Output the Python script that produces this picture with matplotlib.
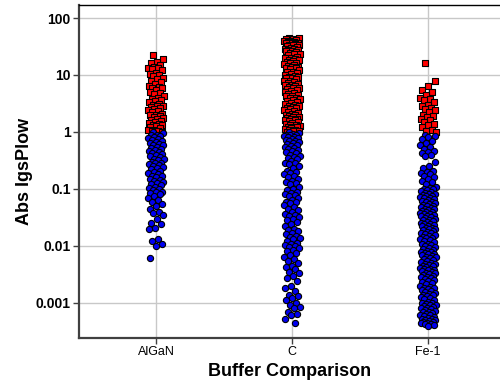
import numpy as np
import matplotlib.pyplot as plt

plt.rcParams['font.family'] = ['Liberation Sans', 'DejaVu Sans']

# categories on the x axis
categories = ['AlGaN', 'C', 'Fe-1']

# values (Abs IgsPlow), split at 1 like the reference
algan_high = [22, 19, 17, 16, 15, 14, 13.5, 13, 12.5, 12, 11, 10.5, 10, 9.5, 9, 8.5, 8, 7.5, 7,
              6.5, 6.2, 6, 5.8, 5.5, 5, 4.8, 4.6, 4.3, 4, 3.8, 3.6, 3.5, 3.3, 3.1, 3, 2.9, 2.8,
              2.7, 2.6, 2.5, 2.4, 2.3, 2.2, 2.1, 2, 1.95, 1.9, 1.8, 1.75, 1.7, 1.6, 1.55, 1.5,
              1.45, 1.4, 1.35, 1.3, 1.25, 1.2, 1.15, 1.1, 1.08, 1.05, 1.02, 1.0]
algan_low = [0.98, 0.95, 0.9, 0.87, 0.85, 0.8, 0.78, 0.75, 0.72, 0.7, 0.66, 0.63, 0.62, 0.6, 0.58,
             0.55, 0.52, 0.5, 0.48, 0.46, 0.44, 0.42, 0.41, 0.4, 0.38, 0.36, 0.34, 0.33, 0.32, 0.3,
             0.29, 0.28, 0.27, 0.26, 0.25, 0.24, 0.23, 0.22, 0.21, 0.2, 0.19, 0.18, 0.17, 0.17,
             0.16, 0.15, 0.145, 0.14, 0.13, 0.125, 0.12, 0.115, 0.11, 0.105, 0.1, 0.095, 0.09,
             0.088, 0.085, 0.08, 0.075, 0.07, 0.065, 0.06, 0.055, 0.05, 0.045, 0.04, 0.038, 0.035,
             0.03, 0.025, 0.024, 0.021, 0.02, 0.013, 0.012, 0.011, 0.0098, 0.0062]

c_high = [45, 44, 43, 42, 41, 40, 39, 38.5, 38, 37, 36.5, 36, 35, 34, 33.5, 33, 32, 31, 30, 29,
          28.5, 28, 27, 26.5, 26, 25, 24, 23.5, 23, 22, 21, 20, 19.5, 19, 18.5, 18, 17.5, 17,
          16.5, 16, 15.5, 15, 14.5, 14, 13.8, 13.5, 13, 12.5, 12, 11.5, 11.2, 11, 10.5, 10, 9.7,
          9.4, 9.2, 9, 8.7, 8.4, 8, 7.7, 7.4, 7.2, 7, 6.8, 6.6, 6.5, 6.2, 6, 5.8, 5.6, 5.4, 5.2,
          5, 4.8, 4.6, 4.4, 4.3, 4.2, 4, 3.9, 3.8, 3.6, 3.5, 3.4, 3.2, 3.1, 3, 2.9, 2.8, 2.7,
          2.65, 2.6, 2.5, 2.4, 2.3, 2.2, 2.15, 2.1, 2, 1.95, 1.9, 1.85, 1.8, 1.75, 1.72, 1.7,
          1.65, 1.6, 1.55, 1.5, 1.45, 1.4, 1.35, 1.3, 1.27, 1.24, 1.22, 1.2, 1.17, 1.14, 1.1,
          1.07, 1.04, 1.02, 1.0]
c_low = [0.98, 0.96, 0.93, 0.9, 0.88, 0.88, 0.85, 0.82, 0.8, 0.77, 0.75, 0.72, 0.7, 0.68, 0.67,
         0.65, 0.62, 0.6, 0.57, 0.55, 0.52, 0.5, 0.48, 0.47, 0.45, 0.42, 0.4, 0.38, 0.37, 0.35,
         0.33, 0.31, 0.29, 0.28, 0.27, 0.25, 0.23, 0.21, 0.2, 0.19, 0.18, 0.17, 0.16, 0.15, 0.14,
         0.13, 0.125, 0.12, 0.11, 0.1, 0.095, 0.09, 0.085, 0.08, 0.078, 0.075, 0.07, 0.065, 0.06,
         0.058, 0.056, 0.052, 0.048, 0.045, 0.042, 0.04, 0.037, 0.035, 0.034, 0.032, 0.03, 0.028,
         0.026, 0.024, 0.022, 0.02, 0.019, 0.018, 0.017, 0.016, 0.015, 0.0145, 0.014, 0.013,
         0.012, 0.0112, 0.011, 0.0105, 0.01, 0.0095, 0.009, 0.0085, 0.008, 0.0075, 0.007,
         0.0065, 0.006, 0.0055, 0.005, 0.0045, 0.0042, 0.004, 0.0035, 0.0033, 0.003, 0.0027,
         0.0024, 0.002, 0.0018, 0.0016, 0.0014, 0.0013, 0.0012, 0.0011, 0.001, 0.0009,
         0.00085, 0.0008, 0.0007, 0.00065, 0.0006, 0.00052, 0.00045]

fe_high = [16, 8, 6.5, 5.5, 5, 4.5, 4, 3.8, 3.6, 3.3, 3, 2.8, 2.6, 2.5, 2.4, 2.2, 2, 1.9, 1.8,
           1.7, 1.6, 1.5, 1.4, 1.3, 1.2, 1.1, 1.05, 1.0]
fe_low = [0.9, 0.85, 0.8, 0.75, 0.7, 0.65, 0.6, 0.55, 0.5, 0.47, 0.45, 0.42, 0.4, 0.38, 0.3,
          0.25, 0.23, 0.21, 0.2, 0.19, 0.18, 0.17, 0.16, 0.15, 0.14, 0.13, 0.12, 0.11, 0.105, 0.1,
          0.098, 0.094, 0.091, 0.088, 0.086, 0.083, 0.081, 0.078, 0.076, 0.074, 0.072, 0.07,
          0.068, 0.066, 0.064, 0.062, 0.06, 0.058, 0.056, 0.055, 0.053, 0.051, 0.05, 0.048,
          0.047, 0.045, 0.044, 0.043, 0.041, 0.04, 0.039, 0.038, 0.037, 0.036, 0.035, 0.034,
          0.033, 0.032, 0.031, 0.03, 0.029, 0.028, 0.027, 0.026, 0.025, 0.0245, 0.024, 0.023,
          0.0225, 0.022, 0.021, 0.0205, 0.02, 0.0195, 0.019, 0.018, 0.0175, 0.017, 0.0165,
          0.016, 0.0155, 0.015, 0.0145, 0.014, 0.0135, 0.013, 0.0125, 0.012, 0.0115, 0.011,
          0.0107, 0.0103, 0.0099, 0.0096, 0.0092, 0.0089, 0.0085, 0.0082, 0.0079, 0.0077,
          0.0075, 0.0073, 0.0071, 0.0069, 0.0067, 0.0065, 0.0063, 0.0061, 0.0059, 0.0057,
          0.0054, 0.0052, 0.0051, 0.0049, 0.0048, 0.0046, 0.0045, 0.0044, 0.0042, 0.0041,
          0.004, 0.0039, 0.0038, 0.0037, 0.0036, 0.0035, 0.0034, 0.0033, 0.0032, 0.0031, 0.003,
          0.0029, 0.0028, 0.0027, 0.0026, 0.0025, 0.0024, 0.0023, 0.0022, 0.0021, 0.002,
          0.0019, 0.00185, 0.0018, 0.00175, 0.0017, 0.0016, 0.00155, 0.0015, 0.00145, 0.0014,
          0.00135, 0.0013, 0.00125, 0.0012, 0.00115, 0.0011, 0.00105, 0.001, 0.00098, 0.00095,
          0.00092, 0.0009, 0.00087, 0.00085, 0.00082, 0.0008, 0.00078, 0.00075, 0.00073, 0.0007,
          0.00068, 0.00066, 0.00064, 0.00062, 0.0006, 0.00058, 0.00056, 0.00055, 0.00053,
          0.00052, 0.0005, 0.00049, 0.00048, 0.00047, 0.00046, 0.00045, 0.00044, 0.00043,
          0.00042, 0.00041, 0.0004]

high_groups = [algan_high, c_high, fe_high]
low_groups = [algan_low, c_low, fe_low]


def jitter(n, width=0.058):
    # spread points evenly across the column (no randomness)
    k = np.arange(n)
    return ((k * 0.6180339887 + 0.3) % 1 - 0.5) * 2 * width


fig = plt.figure(figsize=(5, 3.87), dpi=100)
ax = fig.add_axes([0.158, 0.127, 0.842, 0.86])

for i, (lo, hi) in enumerate(zip(low_groups, high_groups)):
    ax.scatter(i + jitter(len(hi)), hi, marker='s', s=20, c='#ff0000',
               edgecolors='black', linewidths=0.8, zorder=3)
    ax.scatter(i + jitter(len(lo)), lo, marker='o', s=20, c='#0000f0',
               edgecolors='black', linewidths=0.8, zorder=3)

ax.set_yscale('log')
ax.set_ylim(2.43e-4, 169)
ax.set_xlim(-0.566, 2.53)

ax.set_yticks([0.001, 0.01, 0.1, 1, 10, 100])
ax.set_yticklabels(['0.001', '0.01', '0.1', '1', '10', '100'], fontweight='bold', fontsize=10)
ax.minorticks_off()
ax.set_xticks(range(len(categories)))
ax.set_xticklabels(categories, fontsize=9)

ax.grid(True, color='#c8c8c8', linewidth=1, zorder=0)
ax.set_axisbelow(True)
ax.tick_params(axis='both', length=4, width=1, color='#404040', pad=2)

for side in ['left', 'bottom']:
    ax.spines[side].set_color('#404040')
    ax.spines[side].set_linewidth(1.6)
ax.spines['top'].set_color('black')
ax.spines['top'].set_linewidth(1)
ax.spines['right'].set_visible(False)

ax.set_ylabel('Abs IgsPlow', fontsize=13, fontweight='bold')
ax.set_xlabel('Buffer Comparison', fontsize=13, fontweight='bold')
ax.yaxis.set_label_coords(-0.11, 0.5)
ax.xaxis.set_label_coords(0.5, -0.075)

fig.savefig('out.png', dpi=100)
